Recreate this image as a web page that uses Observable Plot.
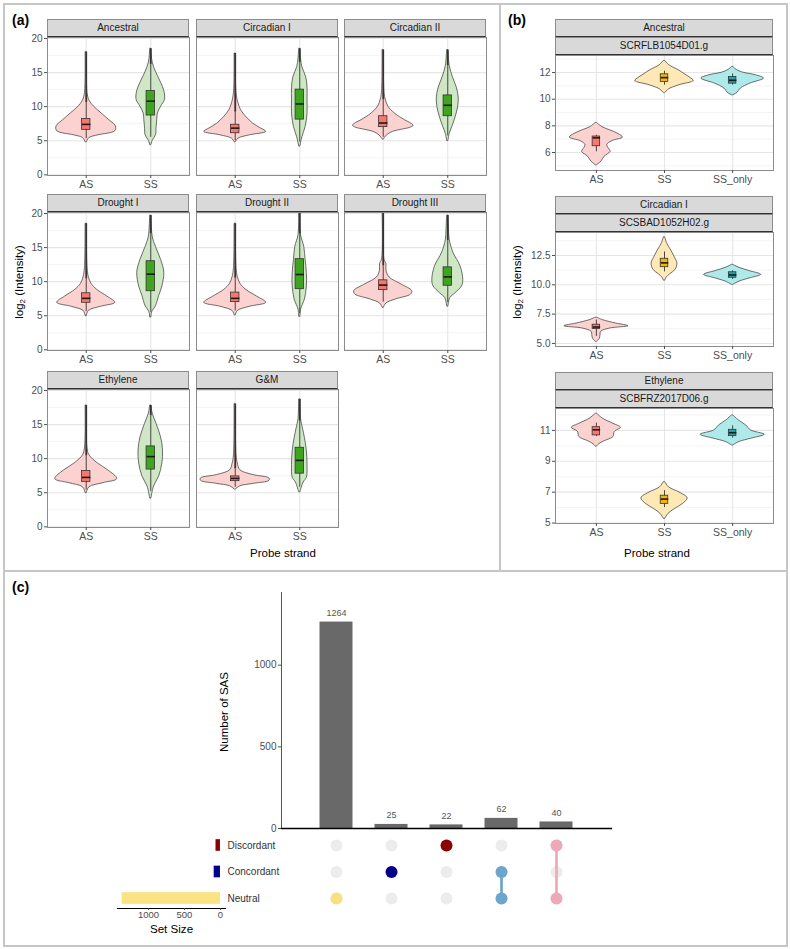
<!DOCTYPE html>
<html>
<head>
<meta charset="utf-8">
<script src="https://cdn.jsdelivr.net/npm/d3@7"></script>
<script src="https://cdn.jsdelivr.net/npm/@observablehq/plot@0.6"></script>
<style>
  html, body { margin: 0; padding: 0; background: #fff; }
  #page { position: relative; width: 790px; height: 949px; overflow: hidden;
          font-family: "Liberation Sans", Arial, Helvetica, sans-serif; color: #1a1a1a; }
  #page > * { position: absolute; }
  .border { border: 2px solid #c6c6c6; box-sizing: border-box; }
  .rule { background: #c6c6c6; }
  .tag { font-size: 14px; font-weight: bold; color: #000; line-height: 14px; }
  .strip { box-sizing: border-box; background: #d9d9d9; border: 1px solid #8c8c8c; border-bottom-color: #333;
           font-size: 10px; color: #1a1a1a; text-align: center; line-height: 16px; white-space: nowrap; }
  .title { font-size: 11.5px; color: #000; white-space: nowrap; transform: translate(-50%, -50%); }
  .ytitle { font-size: 11.5px; color: #000; white-space: nowrap; transform: translate(-50%, -50%) rotate(-90deg); }
  .ytitle sub { font-size: 8px; vertical-align: -2px; }
</style>
</head>
<body>
<div id="page"></div>
<script>
// ---------- panel (a): violin outlines as [log2 intensity, half width in category units]
const ancestralAS = [[4.8,.01],[5.4,.05],[5.8,.19],[6.4,.45],[7.1,.46],[8.0,.36],[9.0,.24],[10.0,.12],[10.9,.05],[12,.02],[18,.01]];
const ancestralSS = [[4.4,.01],[5.0,.03],[5.8,.08],[7.0,.09],[8.0,.10],[9.0,.11],[10.0,.16],[11.0,.22],[12.3,.21],[13.5,.16],[14.5,.11],[15.8,.05],[17,.02],[18.5,.01]];
const circ1AS = [[4.8,.01],[5.3,.05],[5.8,.23],[6.3,.48],[6.8,.40],[7.5,.28],[8.5,.17],[9.5,.09],[10.5,.05],[12,.02],[17.8,.01]];
const circ1SS = [[4.2,.01],[5.5,.04],[7.0,.09],[8.9,.12],[10.9,.12],[12.8,.12],[14.3,.10],[15.8,.04],[17,.02],[18.5,.01]];
const circ2AS = [[5.2,.01],[5.8,.06],[6.3,.15],[6.6,.28],[6.9,.42],[7.2,.47],[7.6,.42],[8.0,.34],[9.0,.18],[10.0,.08],[11.0,.04],[12,.02],[18.3,.01]];
const circ2SS = [[5.0,.01],[6.0,.03],[7.0,.07],[8.4,.12],[9.9,.16],[11.3,.17],[12.8,.14],[14.3,.08],[16,.03],[18.3,.01]];
const drought1AS = [[5.0,.01],[5.7,.04],[6.3,.22],[6.9,.45],[7.8,.33],[8.8,.17],[9.7,.08],[10.7,.04],[12,.02],[18.5,.01]];
const drought1SS = [[4.8,.01],[5.5,.02],[6.4,.08],[7.9,.13],[9.3,.18],[11.3,.21],[13.2,.16],[15.1,.08],[16.6,.03],[19.7,.01]];
const drought2AS = [[5.1,.01],[5.7,.04],[6.3,.22],[6.9,.48],[7.8,.34],[8.8,.17],[9.7,.08],[10.7,.04],[12,.02],[18.5,.01]];
const drought2SS = [[4.9,.01],[5.9,.02],[7.4,.08],[9.3,.11],[11.3,.11],[13.2,.09],[15.1,.07],[16.8,.02],[20,.01]];
const drought3AS = [[6.2,.01],[6.8,.05],[7.4,.20],[8.1,.43],[8.6,.45],[9.6,.28],[10.6,.10],[11.6,.05],[12.6,.05],[13.2,.02],[20,.01]];
const drought3SS = [[6.4,.01],[7.6,.04],[8.3,.12],[9.3,.22],[10.2,.24],[12.2,.20],[14.2,.09],[16.1,.03],[17.5,.02],[19.7,.01]];
const ethyleneAS = [[5.0,.01],[5.8,.05],[6.4,.26],[7.0,.48],[8.3,.34],[9.3,.18],[10.5,.05],[11.5,.02],[17.8,.01]];
const ethyleneSS = [[4.2,.01],[5.9,.05],[7.4,.13],[9.3,.18],[11.2,.19],[13.1,.16],[15.1,.09],[16.6,.03],[17.8,.01]];
const gmAS = [[5.5,.01],[5.95,.08],[6.3,.28],[6.75,.53],[7.1,.53],[7.6,.28],[8.3,.08],[9.3,.04],[10.5,.02],[18,.01]];
const gmSS = [[5.1,.01],[6.5,.06],[7.2,.11],[9.1,.12],[11.1,.11],[13.0,.08],[14.4,.05],[15.8,.02],[18.7,.01]];

// box stats: [lower whisker, Q1, median, Q3, upper whisker, highest outlier]
const boxesA = [
  [[5.3,6.6,7.4,8.2,10.6,18],   [5.5,8.7,10.8,12.3,16.2,18.5]],
  [[5.0,6.1,6.85,7.35,9.2,17.8],[4.8,8.1,10.4,12.5,16.5,18.5]],
  [[5.5,7.0,7.6,8.6,11.0,18.3], [5.7,8.6,10.2,11.65,16.0,18.3]],
  [[5.6,6.9,7.55,8.3,10.4,18.5],[5.5,8.6,11.1,13.0,17.0,19.7]],
  [[5.7,7.0,7.55,8.4,10.5,18.5],[5.3,8.9,11.05,13.3,17.0,20]],
  [[7.0,8.76,9.5,10.2,12.3,20], [6.9,9.4,10.7,12.1,16.0,19.7]],
  [[5.4,6.6,7.25,8.2,10.4,17.8],[5.2,8.4,10.3,11.8,16.3,17.8]],
  [[5.8,6.7,7.1,7.4,8.5,18],    [5.8,7.8,9.75,11.6,15.5,18.7]]
];
const facetsA = ["Ancestral", "Circadian I", "Circadian II", "Drought I", "Drought II", "Drought III", "Ethylene", "G&M"];
const shapesA = [[ancestralAS, ancestralSS], [circ1AS, circ1SS], [circ2AS, circ2SS], [drought1AS, drought1SS],
                 [drought2AS, drought2SS], [drought3AS, drought3SS], [ethyleneAS, ethyleneSS], [gmAS, gmSS]];
const strandsA = ["AS", "SS"];
const yTicksA = [0, 5, 10, 15, 20];

// ---------- panel (b): one gene per facet
const ancAS = [[5.05,.01],[5.3,.07],[5.67,.12],[6.05,.21],[6.17,.20],[6.55,.16],[6.85,.23],[7.12,.39],[7.4,.32],[7.67,.20],[7.9,.09],[8.22,.01]];
const ancSS = [[10.47,.01],[10.75,.07],[11.05,.22],[11.37,.43],[11.6,.38],[11.8,.32],[12.17,.21],[12.55,.07],[12.87,.01]];
const ancSSonly = [[10.3,.01],[10.47,.07],[10.8,.12],[11.17,.26],[11.55,.46],[11.8,.34],[12.0,.15],[12.2,.06],[12.42,.01]];
const circAS = [[5.14,.01],[5.4,.05],[5.7,.06],[5.99,.07],[6.27,.2],[6.47,.47],[6.7,.29],[6.98,.1],[7.2,.01]];
const circSS = [[10.38,.01],[10.6,.03],[10.88,.08],[11.27,.16],[11.8,.19],[12.36,.15],[12.92,.1],[13.5,.04],[14.05,.01]];
const circSSonly = [[10.0,.01],[10.27,.1],[10.56,.26],[10.85,.42],[11.17,.25],[11.45,.1],[11.7,.01]];
const ethAS = [[9.96,.01],[10.1,.04],[10.3,.12],[10.57,.25],[10.9,.27],[11.17,.36],[11.43,.25],[11.75,.1],[12.08,.01]];
const ethSS = [[5.28,.01],[5.6,.06],[5.9,.15],[6.23,.27],[6.6,.34],[6.98,.22],[7.3,.07],[7.65,.01]];
const ethSSonly = [[10.03,.01],[10.25,.1],[10.46,.27],[10.72,.47],[11.0,.27],[11.32,.2],[11.65,.09],[11.97,.01]];
const boxesB = [
  [[6.05,6.47,7.1,7.2,7.3,7.3],    [11.05,11.3,11.62,11.87,12.1,12.1], [11.05,11.17,11.42,11.67,11.9,11.9]],
  [[5.6,6.24,6.4,6.6,7.0,7.0],     [11.1,11.5,11.87,12.22,12.8,12.8],  [10.45,10.6,10.84,11.07,11.2,11.2]],
  [[10.6,10.68,11.04,11.21,11.47,11.47], [6.0,6.23,6.55,6.77,7.1,7.1], [10.5,10.63,10.85,11.04,11.3,11.3]]
];
const groupsB = ["Ancestral", "Circadian I", "Ethylene"];
const genesB = ["SCRFLB1054D01.g", "SCSBAD1052H02.g", "SCBFRZ2017D06.g"];
const shapesB = [[ancAS, ancSS, ancSSonly], [circAS, circSS, circSSonly], [ethAS, ethSS, ethSSonly]];
const strandsB = ["AS", "SS", "SS_only"];
const yTicksB = [[6, 8, 10, 12], [5, 7.5, 10, 12.5], [5, 7, 9, 11]];

// ---------- panel (c): UpSet
const comboSizes = [1264, 25, 22, 62, 40];
const comboSets = [["Neutral"], ["Concordant"], ["Discordant"], ["Concordant", "Neutral"], ["Discordant", "Neutral"]];
const setNames = ["Discordant", "Concordant", "Neutral"];
const setSizes = [62, 87, 1366];
const sasTicks = [0, 500, 1000];
const setSizeTicks = [0, 500, 1000];

// ---------- styling
const FONT = '"Liberation Sans", Arial, Helvetica, sans-serif';
const fillA = ["#fbd2cf", "#cfe7c4"], boxFillA = ["#f8766d", "#3fa41f"];
const fillB = ["#fbd2cf", "#fde8b6", "#aeeaea"], boxFillB = ["#f8766d", "#f2b705", "#1ea5a5"];
const comboColors = ["#f9e07f", "#00008b", "#8b0000", "#6ca6cd", "#eea9b8"];
const setColors = ["#8b0000", "#00008b", "#fbe283"];
const baseStyle = {fontFamily: FONT, fontSize: "10px", color: "#4d4d4d", background: "transparent", overflow: "visible", maxWidth: "none"};

const page = document.getElementById("page");
function put(el, left, top) {
  el.style.position = "absolute";
  el.style.left = left + "px";
  el.style.top = top + "px";
  page.appendChild(el);
  return el;
}
function div(cls, left, top, w, h, html) {
  const d = document.createElement("div");
  d.className = cls;
  if (w != null) d.style.width = w + "px";
  if (h != null) d.style.height = h + "px";
  if (html != null) d.innerHTML = html;
  return put(d, left, top);
}

// one facet of violins + boxplots
function violinFacet({shapes, boxes, cats, fills, boxFills, yDomain, yTicks, yMinor, yFormat, w, h, ml, showY, boxHalf}) {
  const xs = cats.map((c, i) => i + 1);
  const marks = [
    Plot.ruleY(yMinor, {stroke: "#ececec", strokeWidth: 0.6}),
    Plot.ruleY(yTicks, {stroke: "#e6e6e6", strokeWidth: 1.1}),
    Plot.ruleX(xs, {stroke: "#e6e6e6", strokeWidth: 1.1})
  ];
  shapes.forEach((shape, k) => {
    const xc = k + 1;
    const b = boxes[k];
    marks.push(
      Plot.areaX(shape, {y: d => d[0], x1: d => xc - d[1], x2: d => xc + d[1], curve: "catmull-rom",
                         fill: fills[k], stroke: "#333", strokeWidth: 0.7}),
      Plot.ruleX([xc], {y1: b[0], y2: b[4], stroke: "#333", strokeWidth: 0.9}),
      Plot.ruleX([xc], {y1: b[4], y2: b[5], stroke: "#333", strokeWidth: 1.8}),
      Plot.rect([b], {x1: xc - boxHalf, x2: xc + boxHalf, y1: d => d[1], y2: d => d[3],
                      fill: boxFills[k], stroke: "#333", strokeWidth: 0.8}),
      Plot.link([b], {x1: xc - boxHalf, x2: xc + boxHalf, y1: d => d[2], y2: d => d[2], stroke: "#1a1a1a", strokeWidth: 1.6})
    );
  });
  marks.push(
    Plot.frame({stroke: "#8c8c8c"}),
    Plot.axisX(xs, {tickFormat: i => cats[i - 1], tickSize: 3, tickPadding: 2, fontSize: 10.5, label: null})
  );
  if (showY) marks.push(Plot.axisY(yTicks, {tickSize: 3, tickPadding: 2, tickFormat: yFormat, fontSize: 10, label: null}));
  return Plot.plot({
    width: ml + w, height: h + 22,
    marginLeft: ml, marginRight: 0, marginTop: 0, marginBottom: 22,
    x: {domain: [0.4, cats.length + 0.6]},
    y: {domain: yDomain, axis: showY ? undefined : null},
    style: baseStyle,
    marks
  });
}

// ---------- frames and tags
div("border", 3, 3, 785, 944);
div("rule", 499, 3, 2, 569);
div("rule", 3, 570, 785, 2);
div("tag", 12, 13, null, null, "(a)");
div("tag", 508, 13, null, null, "(b)");
div("tag", 12, 580, null, null, "(c)");

// ---------- panel (a)
const colLeftA = [47, 196, 344], rowTopA = [37, 212, 389], wA = 142, hA = 138, mlA = 30;
facetsA.forEach((name, f) => {
  const c = f % 3, r = Math.floor(f / 3);
  const left = colLeftA[c], top = rowTopA[r];
  div("strip", left, top - 18, wA, 18, name.replace("&", "&amp;"));
  const svg = violinFacet({
    shapes: shapesA[f], boxes: boxesA[f], cats: strandsA, fills: fillA, boxFills: boxFillA,
    yDomain: [-0.1, 20.15], yTicks: yTicksA, yMinor: [2.5, 7.5, 12.5, 17.5], yFormat: d3.format("d"),
    w: wA, h: hA, ml: mlA, showY: c === 0, boxHalf: 0.065
  });
  put(svg, left - mlA, top);
});
div("ytitle", 20, 282, null, null, "log<sub>2</sub> (Intensity)");
div("title", 283, 553, null, null, "Probe strand");

// ---------- panel (b)
const leftB = 555, wB = 218, mlB = 30;
const topB = [55, 232, 408], hB = [115, 114, 115];
const domainsB = [[4.65, 13.28], [4.74, 14.46], [4.97, 12.42]];
const minorB = [[5, 7, 9, 11, 13], [6.25, 8.75, 11.25, 13.75], [6, 8, 10, 12]];
const formatsB = [d3.format("d"), d3.format(".1f"), d3.format("d")];
groupsB.forEach((g, f) => {
  div("strip", leftB, topB[f] - 36, wB, 18, g);
  div("strip", leftB, topB[f] - 18, wB, 18, genesB[f]);
  const svg = violinFacet({
    shapes: shapesB[f], boxes: boxesB[f], cats: strandsB, fills: fillB, boxFills: boxFillB,
    yDomain: domainsB[f], yTicks: yTicksB[f], yMinor: minorB[f], yFormat: formatsB[f],
    w: wB, h: hB[f], ml: mlB, showY: true, boxHalf: 0.055
  });
  put(svg, leftB - mlB, topB[f]);
});
div("ytitle", 518, 282, null, null, "log<sub>2</sub> (Intensity)");
div("title", 657, 553, null, null, "Probe strand");

// ---------- panel (c)
const bars = comboSizes.map((n, i) => ({i: i + 1, n}));
const barPlot = Plot.plot({
  width: 410, height: 243, marginLeft: 80, marginRight: 0, marginTop: 7, marginBottom: 0,
  x: {domain: [0, 6], axis: null},
  y: {domain: [0, 1445], axis: null},
  style: baseStyle,
  marks: [
    Plot.rectY(bars, {x1: d => d.i - 0.3, x2: d => d.i + 0.3, y: "n", fill: "#696969"}),
    Plot.text(bars, {x: "i", y: "n", text: d => String(d.n), dy: -9, fontSize: 9, fill: "#555"}),
    Plot.axisY(sasTicks, {tickSize: 3, tickPadding: 2, fontSize: 10, tickFormat: d3.format("d"), label: null}),
    Plot.frame({anchor: "left", stroke: "#555"}),
    Plot.frame({anchor: "bottom", stroke: "#000", strokeWidth: 1.3})
  ]
});
put(barPlot, 201, 585);
div("ytitle", 224, 712, null, null, "Number of SAS");

const cells = [];
comboSizes.forEach((n, i) => setNames.forEach((s, j) => cells.push({i: i + 1, j})));
const members = [], links = [];
comboSets.forEach((sets, i) => {
  const js = sets.map(s => setNames.indexOf(s));
  js.forEach(j => members.push({i: i + 1, j, color: comboColors[i]}));
  if (js.length > 1) links.push({i: i + 1, j1: d3.min(js), j2: d3.max(js), color: comboColors[i]});
});
const matrixY = {domain: [-0.49, 2.377], reverse: true, axis: null};
const matrixPlot = Plot.plot({
  width: 410, height: 80, marginLeft: 80, marginRight: 0, marginTop: 0, marginBottom: 4,
  x: {domain: [0, 6], axis: null},
  y: matrixY,
  color: {type: "identity"},
  style: baseStyle,
  marks: [
    Plot.dot(cells, {x: "i", y: "j", r: 6, fill: "#ececec"}),
    Plot.link(links, {x1: "i", x2: "i", y1: "j1", y2: "j2", stroke: "color", strokeWidth: 2.7}),
    Plot.dot(members, {x: "i", y: "j", r: 6, fill: "color"}),
    Plot.text(setNames, {y: (d, j) => j, text: d => d, frameAnchor: "left", dx: -54, textAnchor: "start",
                         fontSize: 10, fill: "#333"})
  ]
});
put(matrixPlot, 201, 832);

const setRows = setSizes.map((n, j) => ({n, j, color: setColors[j]}));
const setPlot = Plot.plot({
  width: 120, height: 112, marginLeft: 7, marginRight: 5, marginTop: 0, marginBottom: 36,
  x: {domain: [1430, -70], axis: null},
  y: matrixY,
  color: {type: "identity"},
  style: baseStyle,
  marks: [
    Plot.rectX(setRows, {x1: 0, x2: "n", y1: d => d.j - 0.22, y2: d => d.j + 0.22, fill: "color"}),
    Plot.frame({anchor: "bottom", stroke: "#000", strokeWidth: 1.2}),
    Plot.axisX(setSizeTicks, {tickSize: 2, tickPadding: 1, fontSize: 9.5, tickFormat: d3.format("d"), label: null}),
    Plot.text(["Set Size"], {text: d => d, frameAnchor: "bottom", dy: 24, fontSize: 11.6, fill: "#000"})
  ]
});
put(setPlot, 110, 832);
</script>
</body>
</html>
